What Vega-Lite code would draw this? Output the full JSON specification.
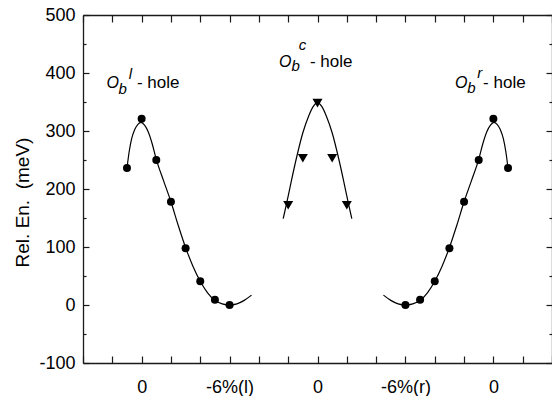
{
  "$schema": "https://vega.github.io/schema/vega-lite/v6.json",
  "width": 469,
  "height": 348,
  "autosize": {"type": "none"},
  "padding": {"left": 83, "top": 15, "right": 0, "bottom": 33},
  "background": "white",
  "config": {
    "view": {"stroke": null},
    "font": "Liberation Sans",
    "axis": {
      "grid": false,
      "domainColor": "#1a1a1a",
      "domainWidth": 1.3,
      "tickColor": "#1a1a1a",
      "tickWidth": 1.2,
      "labelFont": "Liberation Sans",
      "labelFontSize": 18,
      "labelColor": "black",
      "titleFont": "Liberation Sans",
      "titleFontSize": 19,
      "titleFontWeight": "normal",
      "titleColor": "black"
    }
  },
  "datasets": {
    "curve": [
      {"s": "L", "x": 1.50, "y": 236}, {"s": "L", "x": 1.58, "y": 266}, {"s": "L", "x": 1.66, "y": 287},
      {"s": "L", "x": 1.76, "y": 302}, {"s": "L", "x": 1.88, "y": 312}, {"s": "L", "x": 1.98, "y": 315},
      {"s": "L", "x": 2.10, "y": 310}, {"s": "L", "x": 2.22, "y": 299}, {"s": "L", "x": 2.36, "y": 278},
      {"s": "L", "x": 2.50, "y": 251}, {"s": "L", "x": 2.75, "y": 214}, {"s": "L", "x": 3.00, "y": 178},
      {"s": "L", "x": 3.25, "y": 137}, {"s": "L", "x": 3.50, "y": 99}, {"s": "L", "x": 3.75, "y": 67},
      {"s": "L", "x": 4.00, "y": 41}, {"s": "L", "x": 4.25, "y": 21}, {"s": "L", "x": 4.50, "y": 8},
      {"s": "L", "x": 4.75, "y": 2}, {"s": "L", "x": 5.00, "y": 0}, {"s": "L", "x": 5.25, "y": 2},
      {"s": "L", "x": 5.50, "y": 8}, {"s": "L", "x": 5.75, "y": 17},
      {"s": "C", "x": 6.83, "y": 149}, {"s": "C", "x": 6.95, "y": 176}, {"s": "C", "x": 7.10, "y": 212},
      {"s": "C", "x": 7.28, "y": 253}, {"s": "C", "x": 7.50, "y": 297}, {"s": "C", "x": 7.70, "y": 326},
      {"s": "C", "x": 7.85, "y": 342}, {"s": "C", "x": 8.00, "y": 349}, {"s": "C", "x": 8.15, "y": 342},
      {"s": "C", "x": 8.30, "y": 326}, {"s": "C", "x": 8.50, "y": 297}, {"s": "C", "x": 8.72, "y": 253},
      {"s": "C", "x": 8.90, "y": 212}, {"s": "C", "x": 9.05, "y": 176}, {"s": "C", "x": 9.17, "y": 149},
      {"s": "R", "x": 10.25, "y": 17}, {"s": "R", "x": 10.50, "y": 8}, {"s": "R", "x": 10.75, "y": 2},
      {"s": "R", "x": 11.00, "y": 0}, {"s": "R", "x": 11.25, "y": 2}, {"s": "R", "x": 11.50, "y": 8},
      {"s": "R", "x": 11.75, "y": 21}, {"s": "R", "x": 12.00, "y": 41}, {"s": "R", "x": 12.25, "y": 67},
      {"s": "R", "x": 12.50, "y": 99}, {"s": "R", "x": 12.75, "y": 137}, {"s": "R", "x": 13.00, "y": 178},
      {"s": "R", "x": 13.25, "y": 214}, {"s": "R", "x": 13.50, "y": 251}, {"s": "R", "x": 13.64, "y": 278},
      {"s": "R", "x": 13.78, "y": 299}, {"s": "R", "x": 13.90, "y": 310}, {"s": "R", "x": 14.02, "y": 315},
      {"s": "R", "x": 14.12, "y": 312}, {"s": "R", "x": 14.24, "y": 302}, {"s": "R", "x": 14.34, "y": 287},
      {"s": "R", "x": 14.42, "y": 266}, {"s": "R", "x": 14.50, "y": 236}
    ],
    "pts": [
      {"k": "o", "x": 1.5, "y": 236}, {"k": "o", "x": 2.0, "y": 321}, {"k": "o", "x": 2.5, "y": 250},
      {"k": "o", "x": 3.0, "y": 178}, {"k": "o", "x": 3.5, "y": 98}, {"k": "o", "x": 4.0, "y": 41},
      {"k": "o", "x": 4.5, "y": 9}, {"k": "o", "x": 5.0, "y": 0},
      {"k": "o", "x": 11.0, "y": 0}, {"k": "o", "x": 11.5, "y": 9}, {"k": "o", "x": 12.0, "y": 41},
      {"k": "o", "x": 12.5, "y": 98}, {"k": "o", "x": 13.0, "y": 178}, {"k": "o", "x": 13.5, "y": 250},
      {"k": "o", "x": 14.0, "y": 321}, {"k": "o", "x": 14.5, "y": 236},
      {"k": "t", "x": 7.0, "y": 172}, {"k": "t", "x": 7.5, "y": 253}, {"k": "t", "x": 8.0, "y": 348},
      {"k": "t", "x": 8.5, "y": 253}, {"k": "t", "x": 9.0, "y": 172}
    ],
    "ann": [
      {"part": "O", "t": "O", "x": 0.80, "y": 374},
      {"part": "O", "t": "O", "x": 6.69, "y": 411},
      {"part": "O", "t": "O", "x": 12.69, "y": 374},
      {"part": "s", "t": "b", "x": 1.21, "y": 363},
      {"part": "s", "t": "l", "x": 1.56, "y": 390},
      {"part": "s", "t": "b", "x": 7.11, "y": 404},
      {"part": "s", "t": "c", "x": 7.36, "y": 440},
      {"part": "s", "t": "b", "x": 13.11, "y": 365},
      {"part": "s", "t": "r", "x": 13.45, "y": 391},
      {"part": "h", "t": "- hole", "x": 1.84, "y": 374},
      {"part": "h", "t": "- hole", "x": 7.74, "y": 411},
      {"part": "h", "t": "- hole", "x": 13.65, "y": 374}
    ]
  },
  "resolve": {"axis": {"x": "independent", "y": "independent"}},
  "layer": [
    {
      "data": {"name": "curve"},
      "mark": {"type": "line", "color": "black", "strokeWidth": 1.2, "interpolate": "monotone"},
      "encoding": {
        "x": {
          "field": "x", "type": "quantitative",
          "scale": {"domain": [0, 16], "nice": false, "zero": false},
          "axis": {
            "orient": "bottom", "title": null,
            "values": [0, 1, 2, 3, 4, 5, 6, 7, 8, 9, 10, 11, 12, 13, 14, 15, 16],
            "labelExpr": "datum.value == 2 || datum.value == 8 || datum.value == 14 ? '0' : datum.value == 5 ? '-6%(l)' : datum.value == 11 ? '-6%(r)' : ''",
            "tickSize": -7, "labelPadding": 22, "labelOverlap": false, "labelFlush": false
          }
        },
        "y": {
          "field": "y", "type": "quantitative",
          "scale": {"domain": [-100, 500], "nice": false, "zero": false},
          "axis": {
            "orient": "left", "title": "Rel. En.\u00a0\u00a0(meV)",
            "values": [-100, 0, 100, 200, 300, 400, 500],
            "labelExpr": "'' + datum.value",
            "tickSize": -6, "labelPadding": 14,
            "titleX": -61, "titleY": 187, "titleAngle": -90,
            "titleAlign": "center", "titleBaseline": "middle"
          }
        },
        "detail": {"field": "s"}
      }
    },
    {
      "data": {"name": "pts"},
      "transform": [{"filter": "datum.k == 'o'"}],
      "mark": {"type": "point", "shape": "circle", "filled": true, "color": "black", "size": 64, "opacity": 1},
      "encoding": {
        "x": {
          "field": "x", "type": "quantitative",
          "scale": {"domain": [0, 16], "nice": false, "zero": false},
          "axis": {
            "orient": "top", "title": null, "labels": false,
            "values": [0, 1, 2, 3, 4, 5, 6, 7, 8, 9, 10, 11, 12, 13, 14, 15, 16],
            "tickSize": -7
          }
        },
        "y": {
          "field": "y", "type": "quantitative",
          "scale": {"domain": [-100, 500], "nice": false, "zero": false},
          "axis": {
            "orient": "left", "title": null, "labels": false, "domain": false,
            "values": [-50, 50, 150, 250, 350, 450],
            "tickSize": -3
          }
        }
      }
    },
    {
      "data": {"name": "pts"},
      "transform": [{"filter": "datum.k == 't'"}],
      "mark": {"type": "point", "shape": "triangle-down", "filled": true, "color": "black", "size": 100, "opacity": 1},
      "encoding": {
        "x": {
          "field": "x", "type": "quantitative",
          "scale": {"domain": [0, 16], "nice": false, "zero": false},
          "axis": null
        },
        "y": {
          "field": "y", "type": "quantitative",
          "scale": {"domain": [-100, 500], "nice": false, "zero": false},
          "axis": {
            "orient": "right", "title": null, "labels": false,
            "values": [-100, 0, 100, 200, 300, 400, 500],
            "tickSize": -6
          }
        }
      }
    },
    {
      "data": {"name": "ann"},
      "transform": [{"filter": "datum.part == 'O'"}],
      "mark": {"type": "text", "align": "left", "baseline": "alphabetic", "font": "Liberation Sans", "fontSize": 16, "fontStyle": "italic", "color": "black"},
      "encoding": {
        "x": {"field": "x", "type": "quantitative", "scale": {"domain": [0, 16], "nice": false, "zero": false}, "axis": null},
        "y": {
          "field": "y", "type": "quantitative",
          "scale": {"domain": [-100, 500], "nice": false, "zero": false},
          "axis": {
            "orient": "right", "title": null, "labels": false, "domain": false,
            "values": [-50, 50, 150, 250, 350, 450],
            "tickSize": -3
          }
        },
        "text": {"field": "t"}
      }
    },
    {
      "data": {"name": "ann"},
      "transform": [{"filter": "datum.part == 's'"}],
      "mark": {"type": "text", "align": "left", "baseline": "alphabetic", "font": "Liberation Sans", "fontSize": 15, "fontStyle": "italic", "color": "black"},
      "encoding": {
        "x": {"field": "x", "type": "quantitative", "scale": {"domain": [0, 16], "nice": false, "zero": false}, "axis": null},
        "y": {"field": "y", "type": "quantitative", "scale": {"domain": [-100, 500], "nice": false, "zero": false}, "axis": null},
        "text": {"field": "t"}
      }
    },
    {
      "data": {"name": "ann"},
      "transform": [{"filter": "datum.part == 'h'"}],
      "mark": {"type": "text", "align": "left", "baseline": "alphabetic", "font": "Liberation Sans", "fontSize": 17, "color": "black"},
      "encoding": {
        "x": {"field": "x", "type": "quantitative", "scale": {"domain": [0, 16], "nice": false, "zero": false}, "axis": null},
        "y": {"field": "y", "type": "quantitative", "scale": {"domain": [-100, 500], "nice": false, "zero": false}, "axis": null},
        "text": {"field": "t"}
      }
    }
  ]
}
